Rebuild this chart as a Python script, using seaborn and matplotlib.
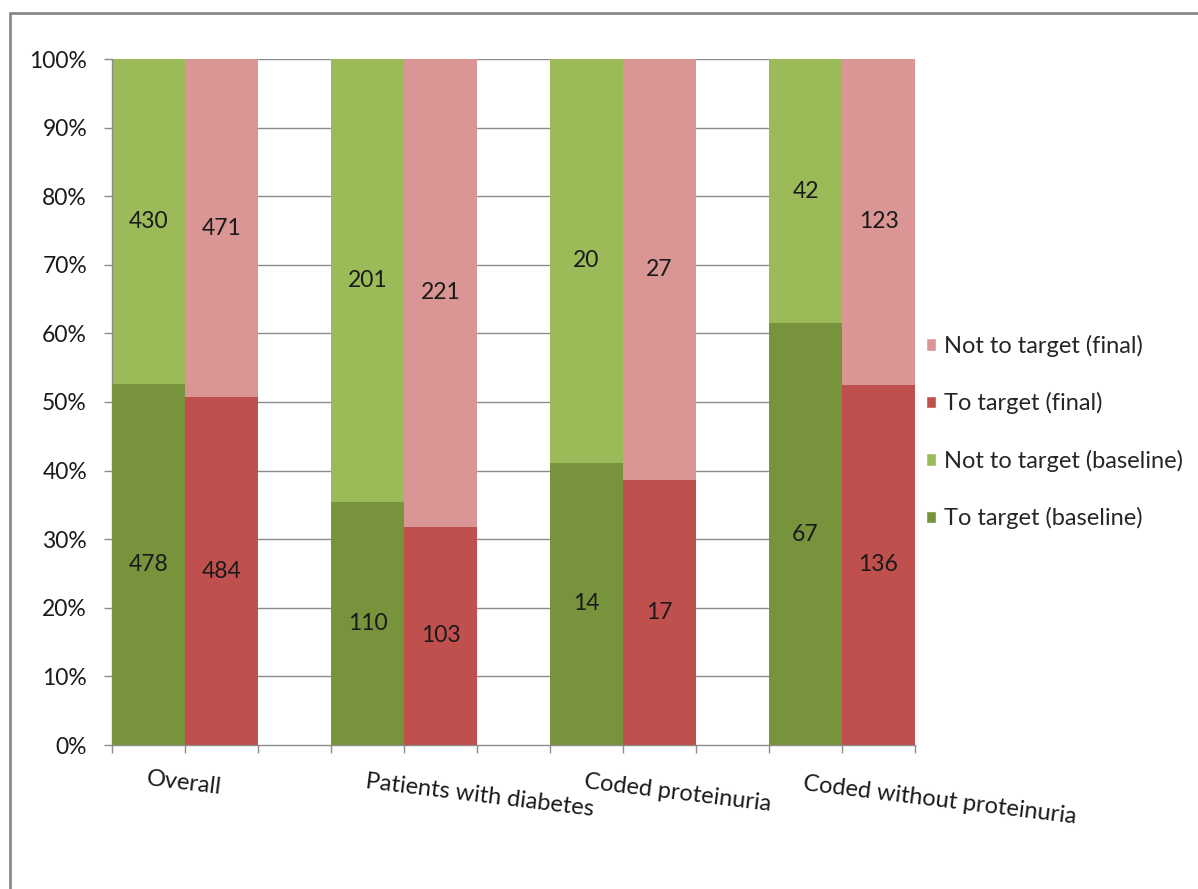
import matplotlib
matplotlib.use("Agg")
import matplotlib.pyplot as plt
from matplotlib.patches import Patch
from matplotlib.lines import Line2D
import numpy as np
import pandas as pd
import seaborn as sns

# Patient counts per group: baseline and final audit
categories = ["Overall", "Patients with diabetes", "Coded proteinuria", "Coded without proteinuria"]
to_target_baseline = [478, 110, 14, 67]
not_to_target_baseline = [430, 201, 20, 42]
to_target_final = [484, 103, 17, 136]
not_to_target_final = [471, 221, 27, 123]
tick_percent = [0, 10, 20, 30, 40, 50, 60, 70, 80, 90, 100]

C_TT_BASE = "#77933C"
C_NT_BASE = "#9BBB59"
C_TT_FINAL = "#C0504D"
C_NT_FINAL = "#D99694"

sns.set_theme(style="white")
plt.rcParams["font.family"] = ["Lato", "DejaVu Sans"]

# Build long table: each group takes three slots (baseline bar, final bar, gap)
rows = []
for i, cat in enumerate(categories):
    for j, (phase, tt, nt) in enumerate([
        ("baseline", to_target_baseline[i], not_to_target_baseline[i]),
        ("final", to_target_final[i], not_to_target_final[i]),
    ]):
        total = tt + nt
        rows.append({
            "category": cat,
            "phase": phase,
            "slot": 3 * i + j,
            "to_target": tt,
            "not_to_target": nt,
            "pct_to": 100.0 * tt / total,
            "pct_all": 100.0,
        })
df = pd.DataFrame(rows)

fig = plt.figure(figsize=(11.98, 8.89), dpi=100)
ax = fig.add_axes([112 / 1198, 1 - 745 / 889, (915 - 112) / 1198, (745 - 59) / 889])

grid_c = "#8C8C8C"
for t in tick_percent[1:]:
    ax.axhline(t, color=grid_c, lw=1.0, zorder=0)

# Full-height layer = "not to target" share, overlaid with "to target" share
sns.barplot(data=df, x="slot", y="pct_all", hue="phase", native_scale=True,
            palette={"baseline": C_NT_BASE, "final": C_NT_FINAL},
            width=1.0, dodge=False, linewidth=0, saturation=1, ax=ax,
            legend=False, zorder=2)
sns.barplot(data=df, x="slot", y="pct_to", hue="phase", native_scale=True,
            palette={"baseline": C_TT_BASE, "final": C_TT_FINAL},
            width=1.0, dodge=False, linewidth=0, saturation=1, ax=ax,
            legend=False, zorder=3)

# Count labels centred in each segment
for _, r in df.iterrows():
    ax.text(r["slot"], r["pct_to"] / 2, f"{r['to_target']}", ha="center", va="center",
            fontsize=16.5, color="#1a1a1a", zorder=5)
    ax.text(r["slot"], (r["pct_to"] + 100) / 2, f"{r['not_to_target']}", ha="center",
            va="center", fontsize=16.5, color="#1a1a1a", zorder=5)

ax.set_xlim(-0.5, 10.5)
ax.set_ylim(0, 100)
ax.set_yticks(tick_percent)
ax.set_yticklabels([f"{t}%" for t in tick_percent], fontsize=16.5, color="#1a1a1a")
ax.set_xticks(np.arange(-0.5, 11, 1.0))
ax.set_xticklabels([])
ax.set_xlabel("")
ax.set_ylabel("")
ax.tick_params(axis="both", which="both", direction="out", length=6, width=1,
               color=grid_c, left=True, bottom=True, pad=12)
for side in ["top", "right"]:
    ax.spines[side].set_visible(False)
for side in ["left", "bottom"]:
    ax.spines[side].set_color(grid_c)
    ax.spines[side].set_linewidth(1.0)

# Slanted category labels below the axis
label_x = [0.49, 4.54, 7.25, 10.84]
label_y = [-5.5, -7.4, -7.0, -8.1]
for cat, lx, ly in zip(categories, label_x, label_y):
    ax.text(lx, ly, cat, ha="center", va="center", rotation=-7,
            rotation_mode="anchor", fontsize=17, color="#1a1a1a", clip_on=False)

handles = [
    Patch(facecolor=C_NT_FINAL, label="Not to target (final)"),
    Patch(facecolor=C_TT_FINAL, label="To target (final)"),
    Patch(facecolor=C_NT_BASE, label="Not to target (baseline)"),
    Patch(facecolor=C_TT_BASE, label="To target (baseline)"),
]
fig.legend(handles=handles, loc="center left", bbox_to_anchor=(914 / 1198, 1 - 432 / 889),
           frameon=False, fontsize=17, handlelength=0.45, handleheight=0.45,
           handletextpad=0.3, labelspacing=1.5, borderpad=0)

# Outer frame
bc = "#8A8A8A"
fig.add_artist(Line2D([10 / 1198, 1.0], [1 - 13 / 889, 1 - 13 / 889], transform=fig.transFigure,
                      color=bc, lw=2.0))
fig.add_artist(Line2D([10 / 1198, 10 / 1198], [0.0, 1 - 13 / 889], transform=fig.transFigure,
                      color=bc, lw=2.0))

fig.savefig("out.png", dpi=100, facecolor="white")
